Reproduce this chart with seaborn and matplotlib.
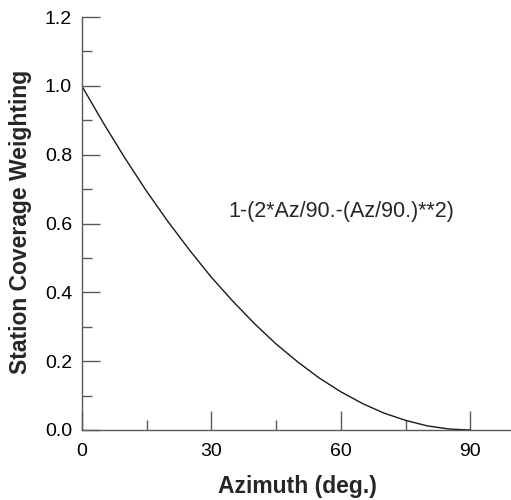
import numpy as np
import pandas as pd
import matplotlib
matplotlib.use("Agg")
import matplotlib.pyplot as plt
import seaborn as sns
from matplotlib.ticker import MultipleLocator

# Curva (azimute em graus, peso de cobertura)
azimuth = [0, 5, 10, 15, 20, 25, 30, 35, 40, 45, 50, 55, 60, 65, 70, 75, 80, 85, 88, 90]
weighting = [1.000, 0.892, 0.790, 0.694, 0.605, 0.522, 0.444, 0.374, 0.309, 0.250,
             0.198, 0.151, 0.111, 0.077, 0.049, 0.028, 0.012, 0.003, 0.001, 0.000]

x_ticks = [0, 30, 60, 90]
y_ticks = [0.0, 0.2, 0.4, 0.6, 0.8, 1.0, 1.2]
formula_label = "1-(2*Az/90.-(Az/90.)**2)"

df = pd.DataFrame({"Azimuth": azimuth, "Weight": weighting})

sns.set_style("white")
plt.rcParams['font.family'] = ['Liberation Sans', 'DejaVu Sans']

fig = plt.figure(figsize=(5.11, 5.0), dpi=100)
ax = fig.add_axes([0.160, 0.140, 0.845, 0.826])

sns.lineplot(data=df, x="Azimuth", y="Weight", ax=ax, color="#1a1a1a", linewidth=1.0)

ax.set_xlim(0, 100)
ax.set_ylim(0, 1.2)
ax.set_xticks(x_ticks)
ax.set_yticks(y_ticks)
ax.set_yticklabels([f"{v:.1f}" for v in y_ticks])
ax.xaxis.set_minor_locator(MultipleLocator(15))
ax.yaxis.set_minor_locator(MultipleLocator(0.1))

spine_col = "#5a5a5a"
for s in ["top", "right"]:
    ax.spines[s].set_visible(False)
for s in ["left", "bottom"]:
    ax.spines[s].set_color(spine_col)
    ax.spines[s].set_linewidth(1.0)

# o estilo "white" desliga os ticks, religando aqui
ax.tick_params(axis="both", which="both", direction="in", color=spine_col, width=1.0,
               labelsize=14, labelcolor="black", left=True, bottom=True)
ax.tick_params(axis="y", which="major", length=13, pad=7)
ax.tick_params(axis="y", which="minor", length=7)
ax.tick_params(axis="x", which="major", length=14, pad=9)
ax.tick_params(axis="x", which="minor", length=7)

ax.set_xlabel("Azimuth (deg.)", fontsize=16.5, fontweight="bold")
ax.set_ylabel("Station Coverage Weighting", fontsize=16.5, fontweight="bold")
# posição dos rótulos em pixels da figura
ax.xaxis.set_label_coords(297.5 / 511, 1 - 487 / 500, transform=fig.transFigure)
ax.yaxis.set_label_coords(21 / 511, 1 - 222 / 500, transform=fig.transFigure)
ax.xaxis.label.set_va("center")
ax.yaxis.label.set_va("center")

ax.text(60.2, 0.635, formula_label, fontsize=15.5, ha="center", va="center")

fig.savefig("out.png", dpi=100)
